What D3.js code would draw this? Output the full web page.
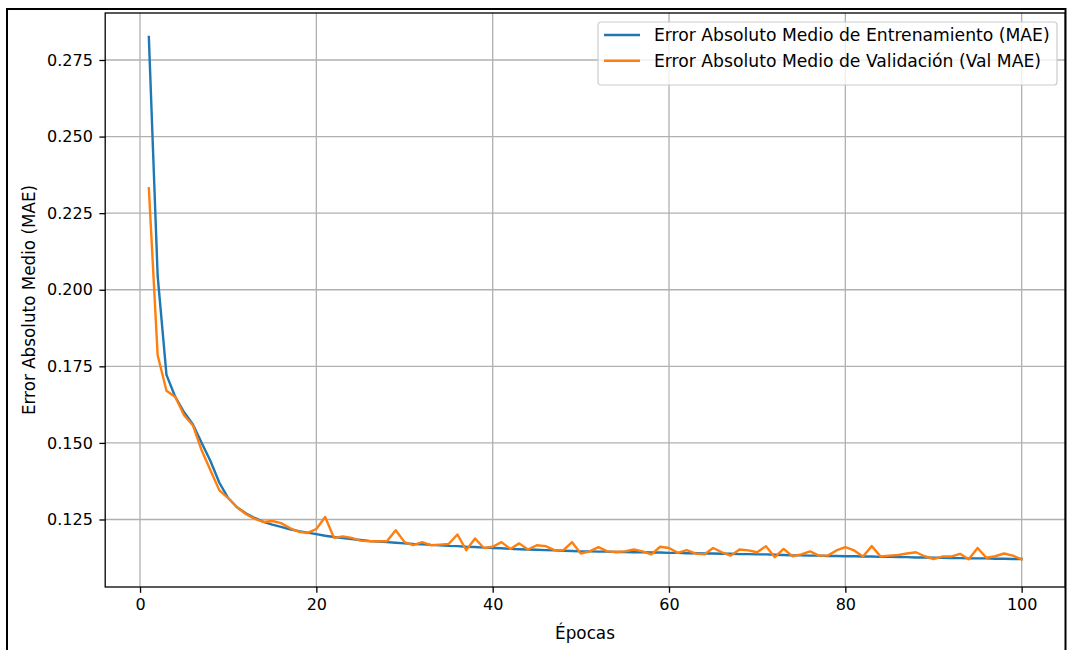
<!DOCTYPE html>
<html>
<head>
<meta charset="utf-8">
<script src="https://cdn.jsdelivr.net/npm/d3@7"></script>
<style>
  html, body { margin: 0; padding: 0; background: #fff; }
  svg { display: block; font-family: "DejaVu Sans", sans-serif; }
</style>
</head>
<body>
<svg id="chart" width="1068" height="650"></svg>
<script>
// Training history: mean absolute error per epoch
const epochs = d3.range(1, 101);

const trainMAE = [
  0.2825, 0.2045, 0.1722, 0.1650, 0.1600, 0.1560, 0.1500, 0.1440, 0.1370, 0.1320,
  0.1290, 0.1270, 0.1255, 0.1242, 0.1233, 0.1226, 0.1218, 0.1212, 0.1207, 0.1202,
  0.1197, 0.1193, 0.1189, 0.1186, 0.1183, 0.1180, 0.1178, 0.1176, 0.1174, 0.1172,
  0.1170, 0.1169, 0.1167, 0.1166, 0.1164, 0.1163, 0.1161, 0.1160, 0.1158, 0.1157,
  0.1156, 0.1154, 0.1153, 0.1152, 0.1151, 0.1150, 0.1149, 0.1148, 0.1147, 0.1146,
  0.1146, 0.1145, 0.1145, 0.1144, 0.1144, 0.1143, 0.1143, 0.1142, 0.1142, 0.1141,
  0.1141, 0.1140, 0.1140, 0.1139, 0.1139, 0.1138, 0.1138, 0.1137, 0.1137, 0.1136,
  0.1136, 0.1135, 0.1134, 0.1133, 0.1133, 0.1132, 0.1132, 0.1131, 0.1131, 0.1130,
  0.1130, 0.1129, 0.1129, 0.1128, 0.1128, 0.1127, 0.1127, 0.1126, 0.1126, 0.1125,
  0.1125, 0.1124, 0.1124, 0.1123, 0.1123, 0.1123, 0.1122, 0.1122, 0.1121, 0.1121
];

const valMAE = [
  0.2331, 0.1786, 0.1670, 0.1650, 0.1590, 0.1557, 0.1475, 0.1410, 0.1345, 0.1320,
  0.1290, 0.1268, 0.1252, 0.1242, 0.1245, 0.1238, 0.1222, 0.1210, 0.1206, 0.1219,
  0.1258, 0.1190, 0.1195, 0.1190, 0.1181, 0.1179, 0.1179, 0.1179, 0.1215, 0.1176,
  0.1166, 0.1176, 0.1166, 0.1168, 0.1170, 0.1201, 0.1150, 0.1188, 0.1157, 0.1161,
  0.1176, 0.1154, 0.1172, 0.1152, 0.1166, 0.1163, 0.1150, 0.1149, 0.1176, 0.1139,
  0.1146, 0.1160, 0.1146, 0.1144, 0.1146, 0.1152, 0.1146, 0.1136, 0.1161, 0.1157,
  0.1141, 0.1150, 0.1139, 0.1136, 0.1157, 0.1143, 0.1132, 0.1152, 0.1149, 0.1143,
  0.1163, 0.1127, 0.1154, 0.1130, 0.1136, 0.1146, 0.1132, 0.1132, 0.1149, 0.1160,
  0.1149, 0.1129, 0.1163, 0.1129, 0.1132, 0.1134, 0.1139, 0.1143, 0.1130, 0.1121,
  0.1129, 0.1129, 0.1138, 0.1120, 0.1157, 0.1125, 0.1130, 0.1139, 0.1132, 0.1120
];

const xTicks = [0, 20, 40, 60, 80, 100];
const yTicks = [0.125, 0.150, 0.175, 0.200, 0.225, 0.250, 0.275];

const seriesNames = [
  "Error Absoluto Medio de Entrenamiento (MAE)",
  "Error Absoluto Medio de Validación (Val MAE)"
];
const seriesColors = ["#1f77b4", "#ff7f0e"];

const xLabel = "Épocas";
const yLabel = "Error Absoluto Medio (MAE)";

// Layout
const plot = { left: 105.2, right: 1065.3, top: 13, bottom: 587 };
const fontSize = 16.8;
const legendFontSize = 17.2;
const tickFontSize = 16;

const svg = d3.select("#chart");

const x = d3.scaleLinear().domain([-3.95, 104.95]).range([plot.left, plot.right]);
const y = d3.scaleLinear().domain([0.10296, 0.29034]).range([plot.bottom, plot.top]);

// Grid
const grid = svg.append("g").attr("stroke", "#b0b0b0").attr("stroke-width", 1.3);
grid.selectAll("line.gx").data(xTicks).join("line")
  .attr("x1", d => x(d)).attr("x2", d => x(d))
  .attr("y1", plot.top).attr("y2", plot.bottom);
grid.selectAll("line.gy").data(yTicks).join("line")
  .attr("x1", plot.left).attr("x2", plot.right)
  .attr("y1", d => y(d)).attr("y2", d => y(d));

// Series
const line = d3.line().x((d, i) => x(epochs[i])).y(d => y(d));
[trainMAE, valMAE].forEach((s, k) => {
  svg.append("path")
    .datum(s)
    .attr("fill", "none")
    .attr("stroke", seriesColors[k])
    .attr("stroke-width", 2.4)
    .attr("stroke-linejoin", "round")
    .attr("stroke-linecap", "square")
    .attr("d", line);
});

// Axes
const xAxis = d3.axisBottom(x).tickValues(xTicks).tickFormat(d3.format("d"))
  .tickSize(5.8).tickPadding(5.5);
const yAxis = d3.axisLeft(y).tickValues(yTicks).tickFormat(d3.format(".3f"))
  .tickSize(5.8).tickPadding(6.5);

const gx = svg.append("g").attr("transform", `translate(0,${plot.bottom})`).call(xAxis);
const gy = svg.append("g").attr("transform", `translate(${plot.left},0)`).call(yAxis);
[gx, gy].forEach(g => {
  g.select(".domain").remove();
  g.selectAll(".tick line").attr("stroke", "#000").attr("stroke-width", 1.3);
  g.selectAll(".tick text").attr("fill", "#000")
    .style("font-family", "DejaVu Sans").style("font-size", tickFontSize + "px");
});

// Spines
svg.append("rect")
  .attr("x", plot.left).attr("y", plot.top)
  .attr("width", plot.right - plot.left).attr("height", plot.bottom - plot.top)
  .attr("fill", "none").attr("stroke", "#000").attr("stroke-width", 1.3);

// Axis labels
svg.append("text")
  .attr("x", 585).attr("y", 639)
  .attr("text-anchor", "middle")
  .style("font-size", fontSize + "px")
  .text(xLabel);

svg.append("text")
  .attr("transform", `translate(35,${(plot.top + plot.bottom) / 2}) rotate(-90)`)
  .attr("text-anchor", "middle")
  .style("font-size", fontSize + "px")
  .text(yLabel);

// Legend
const legend = svg.append("g").attr("transform", "translate(598,22)");
legend.append("rect")
  .attr("width", 459).attr("height", 63).attr("rx", 3).attr("ry", 3)
  .attr("fill", "#fff").attr("fill-opacity", 0.8)
  .attr("stroke", "#cccccc").attr("stroke-width", 1.2);
seriesNames.forEach((name, i) => {
  const cy = 13 + i * 25.7;
  legend.append("line")
    .attr("x1", 6).attr("x2", 42).attr("y1", cy).attr("y2", cy)
    .attr("stroke", seriesColors[i]).attr("stroke-width", 2.4);
  legend.append("text")
    .attr("x", 56).attr("y", cy).attr("dy", "0.36em")
    .style("font-size", legendFontSize + "px")
    .text(name);
});

// Outer frame around the figure
svg.append("path")
  .attr("d", "M7,660 V9 H1065.5 V660")
  .attr("fill", "none").attr("stroke", "#000").attr("stroke-width", 2);
</script>
</body>
</html>
